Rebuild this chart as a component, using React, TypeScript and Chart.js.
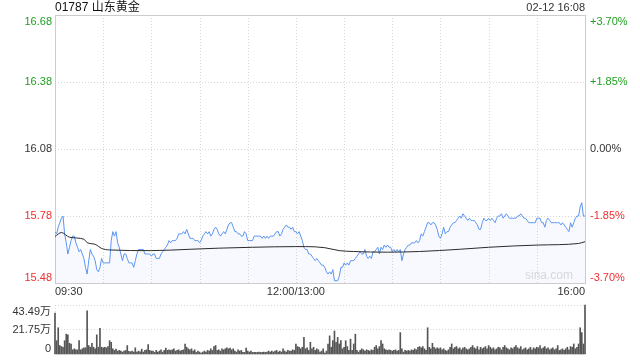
import React, { useEffect, useRef } from 'react';
import { Chart, registerables } from 'chart.js';

Chart.register(...registerables);

const FONT = "'Liberation Sans', Arial, 'Noto Sans CJK SC', sans-serif";
const UP = '#21a021';
const DOWN = '#ee2f2f';
const FLAT = '#333333';

const title = '01787 山东黄金';
const stamp = '02-12 16:08';
const watermark = 'sina.com';

const priceTicks = [16.68, 16.38, 16.08, 15.78, 15.48];
const priceTickLabels = ['16.68', '16.38', '16.08', '15.78', '15.48'];
const pctTickLabels = ['+3.70%', '+1.85%', '0.00%', '-1.85%', '-3.70%'];
const tickTone = ['up', 'up', 'flat', 'down', 'down'];

const timeTicks = [0, 150, 330];
const timeLabels = ['09:30', '12:00/13:00', '16:00'];
const gridMinutes = [30, 60, 90, 120, 150, 180, 210, 240, 270, 300];

const volTicks = [43.49, 21.75, 0];
const volTickLabels = ['43.49万', '21.75万', '0'];

// one price per trading minute, 09:30 -> 12:00, 13:00 -> 16:00
const price = [
  15.71, 15.70, 15.73, 15.75, 15.77, 15.78, 15.70, 15.66, 15.61, 15.64,
  15.67, 15.69, 15.69, 15.66, 15.64, 15.62, 15.63, 15.61, 15.59, 15.55,
  15.52, 15.58, 15.63, 15.61, 15.60, 15.58, 15.54, 15.53, 15.55, 15.59,
  15.57, 15.57, 15.57, 15.57, 15.57, 15.67, 15.71, 15.69, 15.71, 15.66,
  15.64, 15.61, 15.58, 15.61, 15.61, 15.59, 15.57, 15.57, 15.57, 15.55,
  15.58, 15.61, 15.63, 15.63, 15.63, 15.63, 15.61, 15.61, 15.61, 15.61,
  15.60, 15.61, 15.61, 15.59, 15.59, 15.59, 15.61, 15.62, 15.63, 15.64,
  15.65, 15.67, 15.66, 15.67, 15.67, 15.67, 15.68, 15.70, 15.70, 15.70,
  15.71, 15.70, 15.72, 15.70, 15.68, 15.68, 15.68, 15.67, 15.67, 15.67,
  15.66, 15.67, 15.69, 15.70, 15.71, 15.70, 15.71, 15.69, 15.70, 15.72,
  15.73, 15.72, 15.70, 15.69, 15.70, 15.71, 15.70, 15.72, 15.74, 15.75,
  15.75, 15.73, 15.71, 15.71, 15.70, 15.70, 15.69, 15.69, 15.71, 15.70,
  15.67, 15.67, 15.67, 15.67, 15.69, 15.69, 15.69, 15.69, 15.69, 15.68,
  15.69, 15.68, 15.69, 15.68, 15.69, 15.69, 15.69, 15.70, 15.71, 15.71,
  15.69, 15.70, 15.72, 15.73, 15.74, 15.73, 15.73, 15.72, 15.73, 15.71,
  15.71, 15.70, 15.71, 15.69, 15.67, 15.64, 15.63, 15.63, 15.61, 15.61,
  15.60, 15.59, 15.58, 15.59, 15.58, 15.57, 15.56, 15.56, 15.55, 15.53,
  15.52, 15.53, 15.52, 15.54, 15.49, 15.49, 15.49, 15.51, 15.55, 15.55,
  15.57, 15.56, 15.57, 15.56, 15.58, 15.58, 15.58, 15.59, 15.60, 15.61,
  15.62, 15.61, 15.61, 15.63, 15.60, 15.59, 15.60, 15.59, 15.62, 15.62,
  15.63, 15.64, 15.61, 15.64, 15.63, 15.65, 15.64, 15.65, 15.64, 15.64,
  15.62, 15.63, 15.62, 15.63, 15.62, 15.63, 15.58, 15.61, 15.63, 15.64,
  15.65, 15.65, 15.66, 15.66, 15.66, 15.67, 15.66, 15.67, 15.70, 15.69,
  15.71, 15.73, 15.75, 15.75, 15.74, 15.75, 15.75, 15.74, 15.72, 15.69,
  15.68, 15.70, 15.73, 15.70, 15.71, 15.71, 15.73, 15.74, 15.75, 15.75,
  15.76, 15.77, 15.78, 15.77, 15.79, 15.78, 15.77, 15.76, 15.77, 15.76,
  15.76, 15.76, 15.75, 15.74, 15.72, 15.72, 15.75, 15.77, 15.76, 15.76,
  15.77, 15.76, 15.77, 15.76, 15.75, 15.77, 15.78, 15.78, 15.79, 15.77,
  15.78, 15.79, 15.78, 15.77, 15.77, 15.77, 15.77, 15.77, 15.78, 15.78,
  15.79, 15.78, 15.77, 15.77, 15.76, 15.75, 15.75, 15.75, 15.75, 15.75,
  15.77, 15.77, 15.77, 15.75, 15.75, 15.73, 15.76, 15.77, 15.76, 15.75,
  15.75, 15.75, 15.75, 15.75, 15.75, 15.74, 15.75, 15.74, 15.73, 15.72,
  15.71, 15.75, 15.73, 15.75, 15.77, 15.78, 15.78, 15.82, 15.84, 15.78,
  15.78,
];

const avgMinutes = [0, 4, 9, 18, 20, 25, 29, 34, 60, 84, 102, 123, 150, 156, 168, 177, 186, 207, 227, 252, 270, 301, 326, 330];
const avgPrice = [
  15.688, 15.706, 15.685, 15.676, 15.661, 15.653, 15.635, 15.628, 15.625, 15.631,
  15.636, 15.640, 15.643, 15.643, 15.638, 15.625, 15.621, 15.618, 15.621, 15.631,
  15.640, 15.650, 15.657, 15.665,
];

// volume per minute, in 万 shares
const volume = [
  36.3, 11.8, 23.3, 7.5, 6.6, 6.0, 11.8, 17.6, 17.0, 9.5,
  8.9, 3.7, 4.6, 3.7, 3.7, 11.8, 3.7, 4.6, 5.5, 5.5,
  38.3, 7.5, 6.0, 9.5, 6.0, 4.6, 17.0, 6.0, 22.8, 6.0,
  5.5, 6.0, 5.5, 6.6, 11.8, 10.4, 4.6, 3.2, 4.3, 2.6,
  3.2, 2.6, 1.7, 2.6, 3.2, 7.5, 2.3, 2.0, 2.6, 1.7,
  5.5, 1.7, 2.6, 2.0, 4.3, 1.7, 3.2, 3.7, 8.4, 3.2,
  2.6, 2.6, 1.4, 3.2, 1.7, 2.6, 3.7, 1.7, 3.2, 5.2,
  3.2, 3.7, 3.2, 3.7, 4.6, 2.6, 3.2, 3.7, 2.6, 3.2,
  3.7, 8.9, 6.0, 4.6, 3.7, 4.6, 2.6, 3.7, 1.4, 2.6,
  1.7, 0.9, 1.7, 2.6, 1.7, 3.2, 2.6, 4.6, 3.2, 6.6,
  7.5, 3.2, 3.7, 2.6, 4.6, 3.7, 4.6, 5.5, 4.6, 5.2,
  3.7, 4.6, 2.6, 1.7, 3.7, 2.6, 3.2, 1.4, 1.4, 5.2,
  2.6, 1.7, 2.6, 1.4, 1.4, 1.4, 1.4, 1.7, 1.4, 1.4,
  1.7, 1.4, 1.7, 2.6, 1.7, 2.6, 1.7, 2.6, 3.2, 1.7,
  2.6, 1.7, 4.6, 2.6, 1.7, 3.2, 2.6, 2.6, 3.7, 3.2,
  8.9, 6.6, 6.0, 4.6, 6.0, 14.7, 4.6, 5.5, 3.2, 10.4,
  4.6, 6.0, 3.2, 4.6, 3.7, 1.7, 2.6, 4.6, 0.9, 2.6,
  8.9, 16.1, 6.0, 11.8, 20.4, 10.4, 14.7, 8.9, 11.8, 4.6,
  6.0, 11.8, 6.6, 3.2, 13.2, 3.2, 8.9, 17.6, 3.2, 1.7,
  3.2, 4.6, 3.7, 2.6, 3.7, 3.2, 2.6, 3.7, 3.2, 6.0,
  7.5, 4.6, 6.6, 11.8, 8.9, 4.6, 3.7, 3.2, 3.7, 3.2,
  2.6, 3.2, 3.7, 2.6, 3.2, 19.0, 4.6, 1.7, 3.2, 2.6,
  3.2, 2.6, 3.7, 3.2, 4.6, 3.7, 6.0, 6.6, 5.5, 6.6,
  4.6, 3.2, 23.3, 6.0, 4.6, 9.5, 6.0, 4.6, 5.5, 4.6,
  5.5, 3.7, 4.6, 3.2, 2.6, 3.7, 6.0, 8.9, 4.6, 6.0,
  6.6, 4.6, 5.5, 3.7, 5.2, 6.0, 4.6, 3.7, 4.6, 6.0,
  7.5, 5.5, 4.6, 6.6, 3.7, 6.0, 4.6, 5.5, 6.6, 4.6,
  7.5, 6.0, 4.6, 5.5, 3.7, 4.6, 6.0, 5.5, 3.7, 6.0,
  7.5, 5.5, 4.6, 3.7, 5.5, 4.6, 6.0, 7.5, 5.5, 4.6,
  6.6, 3.7, 4.6, 5.5, 3.7, 4.6, 6.0, 3.7, 5.5, 4.6,
  6.0, 5.5, 7.5, 4.6, 5.5, 6.6, 4.6, 5.5, 3.7, 4.6,
  5.5, 3.7, 4.6, 7.5, 3.2, 3.7, 4.6, 3.2, 4.6, 6.0,
  3.7, 6.6, 6.0, 8.9, 4.6, 6.0, 8.9, 23.3, 19.0, 8.9,
  43.49,
];

const toneColor = (t: string) => (t === 'up' ? UP : t === 'down' ? DOWN : FLAT);
const crisp = (v: number) => Math.round(v) + 0.5;

const pricePlugin = {
  id: 'priceDecor',
  beforeDatasetsDraw(chart: any) {
    const { ctx, chartArea: a } = chart;
    const xs = chart.scales.x;
    const ys = chart.scales.y;
    ctx.save();
    ctx.lineWidth = 1;
    ctx.strokeStyle = '#d6d6d6';
    ctx.setLineDash([1, 2]);
    priceTicks.forEach((v, i) => {
      if (i === 0 || i === priceTicks.length - 1) return;
      const y = crisp(ys.getPixelForValue(v));
      ctx.beginPath();
      ctx.moveTo(a.left, y);
      ctx.lineTo(a.right, y);
      ctx.stroke();
    });
    gridMinutes.forEach((m) => {
      const x = crisp(xs.getPixelForValue(m));
      ctx.beginPath();
      ctx.moveTo(x, a.top);
      ctx.lineTo(x, a.bottom);
      ctx.stroke();
    });
    ctx.setLineDash([]);
    ctx.strokeStyle = '#cccccc';
    ctx.strokeRect(crisp(a.left), crisp(a.top), Math.round(a.right - a.left), Math.round(a.bottom - a.top));
    ctx.fillStyle = '#dcdcdc';
    ctx.font = `12px ${FONT}`;
    ctx.textAlign = 'right';
    ctx.textBaseline = 'bottom';
    ctx.fillText(watermark, a.right - 12, a.bottom - 1);
    ctx.restore();
  },
  afterDraw(chart: any) {
    const { ctx, chartArea: a } = chart;
    const xs = chart.scales.x;
    const ys = chart.scales.y;
    ctx.save();
    ctx.font = `11px ${FONT}`;
    priceTicks.forEach((v, i) => {
      const y = ys.getPixelForValue(v);
      ctx.textBaseline = i === 0 ? 'top' : i === priceTicks.length - 1 ? 'bottom' : 'middle';
      ctx.fillStyle = toneColor(tickTone[i]);
      ctx.textAlign = 'right';
      ctx.fillText(priceTickLabels[i], a.left - 3, i === 0 ? y + 1 : y);
      ctx.textAlign = 'left';
      ctx.fillText(pctTickLabels[i], a.right + 5, i === 0 ? y + 1 : y);
    });
    ctx.fillStyle = '#333333';
    ctx.textBaseline = 'top';
    timeTicks.forEach((m, i) => {
      const x = xs.getPixelForValue(m);
      ctx.textAlign = i === 0 ? 'left' : i === timeTicks.length - 1 ? 'right' : 'center';
      ctx.fillText(timeLabels[i], x, a.bottom + 3);
    });
    ctx.textBaseline = 'middle';
    ctx.textAlign = 'right';
    ctx.fillText(stamp, a.right, 8);
    ctx.fillStyle = '#111111';
    ctx.font = `12px ${FONT}`;
    ctx.textAlign = 'left';
    ctx.fillText(title, a.left, 8);
    ctx.restore();
  },
};

const volPlugin = {
  id: 'volDecor',
  beforeDatasetsDraw(chart: any) {
    const { ctx, chartArea: a } = chart;
    const ys = chart.scales.y;
    ctx.save();
    ctx.lineWidth = 1;
    ctx.strokeStyle = '#d6d6d6';
    ctx.setLineDash([1, 2]);
    volTicks.forEach((v, i) => {
      if (i === volTicks.length - 1) return;
      const y = crisp(ys.getPixelForValue(v));
      ctx.beginPath();
      ctx.moveTo(a.left, y);
      ctx.lineTo(a.right, y);
      ctx.stroke();
    });
    ctx.beginPath();
    ctx.moveTo(crisp(a.left), a.top);
    ctx.lineTo(crisp(a.left), a.bottom);
    ctx.stroke();
    ctx.restore();
  },
  afterDraw(chart: any) {
    const { ctx, chartArea: a } = chart;
    const ys = chart.scales.y;
    ctx.save();
    ctx.font = `11px ${FONT}`;
    ctx.fillStyle = '#333333';
    ctx.textAlign = 'right';
    volTicks.forEach((v, i) => {
      const y = ys.getPixelForValue(v);
      ctx.textBaseline = i === 0 ? 'top' : i === volTicks.length - 1 ? 'bottom' : 'middle';
      ctx.fillText(volTickLabels[i], a.left - 4, i === 0 ? y + 1 : y);
    });
    ctx.restore();
  },
};

export default function App() {
  const priceRef = useRef<HTMLCanvasElement>(null);
  const volRef = useRef<HTMLCanvasElement>(null);

  useEffect(() => {
    const priceChart = new Chart(priceRef.current as HTMLCanvasElement, {
      type: 'line',
      data: {
        datasets: [
          {
            data: avgMinutes.map((m, i) => ({ x: m, y: avgPrice[i] })),
            borderColor: '#2b2b2b',
            borderWidth: 1,
            pointRadius: 0,
            fill: false,
            cubicInterpolationMode: 'monotone',
          },
          {
            data: price.map((p, i) => ({ x: i, y: p })),
            borderColor: '#5b95f2',
            borderWidth: 1,
            pointRadius: 0,
            fill: 'start',
            backgroundColor: 'rgba(90,140,240,0.05)',
            tension: 0,
          },
        ],
      } as any,
      options: {
        animation: false,
        responsive: false,
        devicePixelRatio: 1,
        layout: { padding: { left: 55, right: 55, top: 15, bottom: 17 } },
        scales: {
          x: { type: 'linear', min: 0, max: 330, display: false },
          y: { min: 15.48, max: 16.68, display: false },
        },
        plugins: { legend: { display: false }, tooltip: { enabled: false } },
      } as any,
      plugins: [pricePlugin],
    });

    const volChart = new Chart(volRef.current as HTMLCanvasElement, {
      type: 'bar',
      data: {
        datasets: [
          {
            data: volume.map((v, i) => ({ x: i, y: v })),
            backgroundColor: '#555555',
            barThickness: 1,
            clip: false,
          },
        ],
      } as any,
      options: {
        animation: false,
        responsive: false,
        devicePixelRatio: 1,
        layout: { padding: { left: 55, right: 55, top: 5, bottom: 6 } },
        scales: {
          x: { type: 'linear', min: 0, max: 330, offset: false, display: false },
          y: { min: 0, max: 43.49, display: false },
        },
        plugins: { legend: { display: false }, tooltip: { enabled: false } },
      } as any,
      plugins: [volPlugin],
    });

    return () => {
      priceChart.destroy();
      volChart.destroy();
    };
  }, []);

  return (
    <div style={{ position: 'absolute', left: 0, top: 0, width: 640, height: 360, background: '#fff' }}>
      <canvas ref={priceRef} width={640} height={300} style={{ position: 'absolute', left: 0, top: 0, width: 640, height: 300 }} />
      <canvas ref={volRef} width={640} height={60} style={{ position: 'absolute', left: 0, top: 300, width: 640, height: 60 }} />
    </div>
  );
}
